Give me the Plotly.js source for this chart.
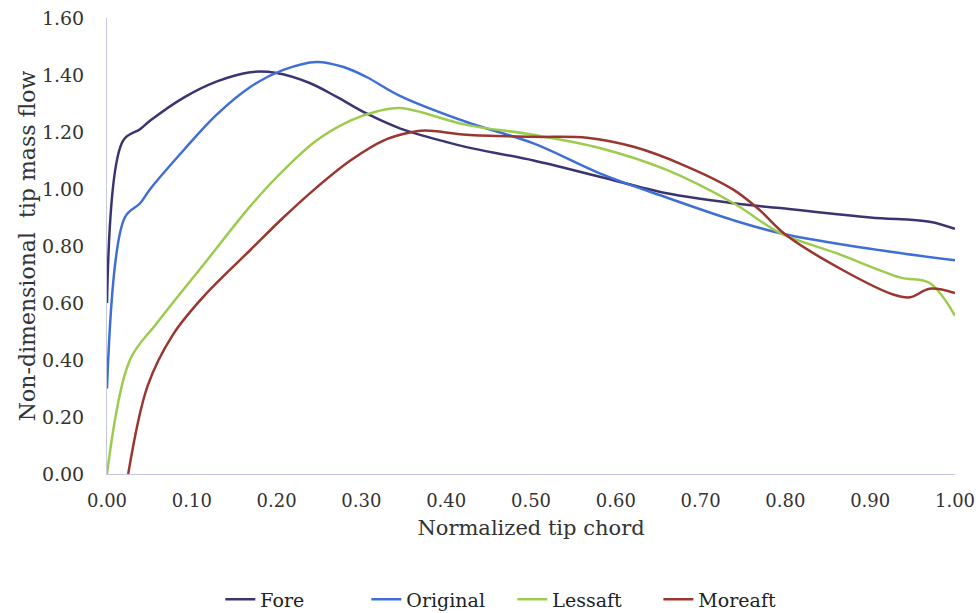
<!DOCTYPE html>
<html>
<head>
<meta charset="utf-8">
<script src="https://cdn.plot.ly/plotly-3.0.1.min.js"></script>
<style>html,body{margin:0;padding:0;background:#fff;}#chart{width:976px;height:613px;}</style>
</head>
<body>
<div id="chart"></div>
<script>
const foreX = [0, 0.019, 0.039, 0.051, 0.090, 0.129, 0.169, 0.200, 0.239, 0.271, 0.306, 0.346, 0.40, 0.424, 0.503, 0.581, 0.660, 0.739, 0.794, 0.90, 0.97, 1.00];
const foreY = [0.60, 1.17, 1.21, 1.24, 1.32, 1.377, 1.410, 1.407, 1.372, 1.323, 1.265, 1.212, 1.165, 1.147, 1.10, 1.043, 0.985, 0.95, 0.933, 0.90, 0.885, 0.86];

const origX = [0, 0.021, 0.039, 0.051, 0.090, 0.129, 0.169, 0.208, 0.247, 0.279, 0.306, 0.346, 0.424, 0.503, 0.581, 0.660, 0.739, 0.794, 0.90, 1.00];
const origY = [0.30, 0.90, 0.95, 1.00, 1.135, 1.26, 1.358, 1.418, 1.446, 1.428, 1.393, 1.326, 1.235, 1.16, 1.055, 0.97, 0.89, 0.845, 0.79, 0.75];

const lessX = [0, 0.027, 0.059, 0.118, 0.169, 0.208, 0.247, 0.287, 0.318, 0.346, 0.424, 0.503, 0.581, 0.660, 0.739, 0.794, 0.86, 0.935, 0.97, 1.00];
const lessY = [0.00, 0.40, 0.53, 0.75, 0.94, 1.065, 1.17, 1.24, 1.272, 1.284, 1.225, 1.19, 1.144, 1.067, 0.95, 0.845, 0.775, 0.69, 0.67, 0.555];

const moreX = [0.025, 0.048, 0.078, 0.113, 0.169, 0.208, 0.247, 0.287, 0.326, 0.357, 0.375, 0.424, 0.503, 0.566, 0.621, 0.679, 0.739, 0.77, 0.80, 0.868, 0.927, 0.947, 0.97, 1.00];
const moreY = [0.00, 0.31, 0.49, 0.62, 0.786, 0.90, 1.005, 1.10, 1.17, 1.198, 1.205, 1.19, 1.183, 1.18, 1.148, 1.085, 0.997, 0.925, 0.84, 0.715, 0.63, 0.62, 0.65, 0.635];

const names = ['Fore', 'Original', 'Lessaft', 'Moreaft'];
const colors = ['#3c3470', '#3f6fd6', '#9ccb4e', '#9a3630'];
const xs = [foreX, origX, lessX, moreX];
const ys = [foreY, origY, lessY, moreY];

const traces = names.map((n, i) => ({
  x: xs[i], y: ys[i], name: n, type: 'scatter', mode: 'lines',
  line: {color: colors[i], width: 2.5, shape: 'spline', smoothing: 1.0}
}));

const FAM = 'DejaVu Serif';
const layout = {
  width: 976, height: 613,
  margin: {l: 107, r: 21, t: 18, b: 139, autoexpand: false},
  paper_bgcolor: '#fff', plot_bgcolor: '#fff',
  font: {family: FAM, color: '#333'},
  showlegend: true,
  legend: {orientation: 'h', x: 0.478, xanchor: 'center', yref: 'container', y: 0.022, yanchor: 'middle',
           font: {family: FAM, size: 19, color: '#222'}, entrywidth: 101, tracegroupgap: 0},
  xaxis: {range: [0, 1], tickvals: [0,0.1,0.2,0.3,0.4,0.5,0.6,0.7,0.8,0.9,1.0], tickformat: '.2f', automargin: false,
          showgrid: false, zeroline: false, showline: true, linecolor: '#c4c8e0', linewidth: 1,
          ticks: 'outside', ticklen: 10, tickcolor: 'rgba(0,0,0,0)', tickfont: {family: FAM, size: 18, color: '#333'},
          title: {text: 'Normalized tip chord', font: {family: FAM, size: 21, color: '#333'}, standoff: 10}},
  yaxis: {range: [0, 1.6], tickvals: [0,0.2,0.4,0.6,0.8,1.0,1.2,1.4,1.6], tickformat: '.2f', automargin: false,
          showgrid: false, zeroline: false, showline: true, linecolor: '#c4c8e0', linewidth: 1,
          ticks: 'outside', ticklen: 18, tickcolor: 'rgba(0,0,0,0)', tickfont: {family: FAM, size: 19, color: '#333'},
          title: {text: 'Non-dimensional  tip mass flow', font: {family: FAM, size: 22, color: '#333'}, standoff: 0}}
};
Plotly.newPlot('chart', traces, layout, {displayModeBar: false});
</script>
</body>
</html>
